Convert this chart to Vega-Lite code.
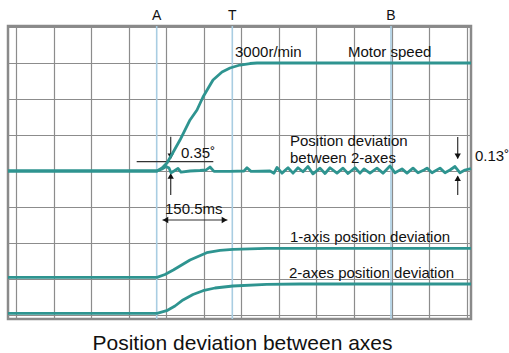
{
  "$schema": "https://vega.github.io/schema/vega-lite/v6.json",
  "autosize": "none",
  "width": 463,
  "height": 293,
  "padding": {"left": 8, "top": 26, "right": 38, "bottom": 34},
  "background": "white",
  "view": {"stroke": "#8a8a8a", "strokeWidth": 2.5},
  "title": {"text": "Position deviation between axes", "orient": "bottom", "fontSize": 21, "fontWeight": "normal", "font": "Liberation Sans", "color": "#111", "offset": 13, "dx": 3},
  "config": {
    "axis": {"grid": true, "labels": false, "ticks": false, "domain": false, "title": null, "gridColor": "#8c8c8c", "gridWidth": 1.2, "gridOpacity": 1}
  },
  "datasets": {
    "curves": [
      {"series": "Motor speed", "x": -0.213, "y": 4.0},
      {"series": "Motor speed", "x": 3.754, "y": 4.0},
      {"series": "Motor speed", "x": 3.887, "y": 4.083},
      {"series": "Motor speed", "x": 4.02, "y": 4.222},
      {"series": "Motor speed", "x": 4.18, "y": 4.514},
      {"series": "Motor speed", "x": 4.366, "y": 4.861},
      {"series": "Motor speed", "x": 4.633, "y": 5.417},
      {"series": "Motor speed", "x": 4.819, "y": 5.694},
      {"series": "Motor speed", "x": 4.979, "y": 6.056},
      {"series": "Motor speed", "x": 5.245, "y": 6.528},
      {"series": "Motor speed", "x": 5.485, "y": 6.75},
      {"series": "Motor speed", "x": 5.698, "y": 6.861},
      {"series": "Motor speed", "x": 5.964, "y": 6.944},
      {"series": "Motor speed", "x": 6.23, "y": 6.986},
      {"series": "Motor speed", "x": 6.416, "y": 7.0},
      {"series": "Motor speed", "x": 12.114, "y": 7.0},
      {"series": "Deviation between 2-axes", "x": -0.213, "y": 4.0},
      {"series": "Deviation between 2-axes", "x": 3.754, "y": 4.0},
      {"series": "Deviation between 2-axes", "x": 3.887, "y": 4.056},
      {"series": "Deviation between 2-axes", "x": 3.994, "y": 4.125},
      {"series": "Deviation between 2-axes", "x": 4.073, "y": 4.083},
      {"series": "Deviation between 2-axes", "x": 4.127, "y": 3.95},
      {"series": "Deviation between 2-axes", "x": 4.207, "y": 4.0},
      {"series": "Deviation between 2-axes", "x": 4.313, "y": 4.07},
      {"series": "Deviation between 2-axes", "x": 4.393, "y": 3.97},
      {"series": "Deviation between 2-axes", "x": 4.633, "y": 4.0},
      {"series": "Deviation between 2-axes", "x": 4.899, "y": 4.014},
      {"series": "Deviation between 2-axes", "x": 5.059, "y": 4.028},
      {"series": "Deviation between 2-axes", "x": 5.165, "y": 4.111},
      {"series": "Deviation between 2-axes", "x": 5.272, "y": 3.99},
      {"series": "Deviation between 2-axes", "x": 5.698, "y": 3.99},
      {"series": "Deviation between 2-axes", "x": 6.07, "y": 4.0},
      {"series": "Deviation between 2-axes", "x": 6.15, "y": 4.09},
      {"series": "Deviation between 2-axes", "x": 6.257, "y": 3.99},
      {"series": "Deviation between 2-axes", "x": 6.763, "y": 4.0},
      {"series": "Deviation between 2-axes", "x": 6.869, "y": 3.94},
      {"series": "Deviation between 2-axes", "x": 6.949, "y": 4.1},
      {"series": "Deviation between 2-axes", "x": 7.082, "y": 3.94},
      {"series": "Deviation between 2-axes", "x": 7.242, "y": 4.09},
      {"series": "Deviation between 2-axes", "x": 7.375, "y": 3.94},
      {"series": "Deviation between 2-axes", "x": 7.508, "y": 4.09},
      {"series": "Deviation between 2-axes", "x": 7.641, "y": 3.98},
      {"series": "Deviation between 2-axes", "x": 7.774, "y": 4.125},
      {"series": "Deviation between 2-axes", "x": 7.907, "y": 3.92},
      {"series": "Deviation between 2-axes", "x": 8.094, "y": 4.08},
      {"series": "Deviation between 2-axes", "x": 8.227, "y": 3.93},
      {"series": "Deviation between 2-axes", "x": 8.36, "y": 4.09},
      {"series": "Deviation between 2-axes", "x": 8.546, "y": 3.94},
      {"series": "Deviation between 2-axes", "x": 8.706, "y": 4.08},
      {"series": "Deviation between 2-axes", "x": 8.839, "y": 3.93},
      {"series": "Deviation between 2-axes", "x": 9.026, "y": 4.09},
      {"series": "Deviation between 2-axes", "x": 9.159, "y": 3.94},
      {"series": "Deviation between 2-axes", "x": 9.265, "y": 4.06},
      {"series": "Deviation between 2-axes", "x": 9.425, "y": 3.94},
      {"series": "Deviation between 2-axes", "x": 9.611, "y": 4.08},
      {"series": "Deviation between 2-axes", "x": 9.771, "y": 3.94},
      {"series": "Deviation between 2-axes", "x": 9.957, "y": 4.139},
      {"series": "Deviation between 2-axes", "x": 10.091, "y": 3.95},
      {"series": "Deviation between 2-axes", "x": 10.277, "y": 4.06},
      {"series": "Deviation between 2-axes", "x": 10.41, "y": 3.94},
      {"series": "Deviation between 2-axes", "x": 10.57, "y": 4.08},
      {"series": "Deviation between 2-axes", "x": 10.703, "y": 3.95},
      {"series": "Deviation between 2-axes", "x": 10.863, "y": 4.028},
      {"series": "Deviation between 2-axes", "x": 10.943, "y": 4.08},
      {"series": "Deviation between 2-axes", "x": 11.076, "y": 3.95},
      {"series": "Deviation between 2-axes", "x": 11.289, "y": 4.08},
      {"series": "Deviation between 2-axes", "x": 11.422, "y": 3.95},
      {"series": "Deviation between 2-axes", "x": 11.555, "y": 4.028},
      {"series": "Deviation between 2-axes", "x": 11.688, "y": 4.125},
      {"series": "Deviation between 2-axes", "x": 11.821, "y": 3.95},
      {"series": "Deviation between 2-axes", "x": 11.954, "y": 4.028},
      {"series": "Deviation between 2-axes", "x": 12.114, "y": 4.069},
      {"series": "1-axis position deviation", "x": -0.213, "y": 1.047},
      {"series": "1-axis position deviation", "x": 3.754, "y": 1.047},
      {"series": "1-axis position deviation", "x": 3.967, "y": 1.125},
      {"series": "1-axis position deviation", "x": 4.188, "y": 1.25},
      {"series": "1-axis position deviation", "x": 4.633, "y": 1.528},
      {"series": "1-axis position deviation", "x": 5.077, "y": 1.731},
      {"series": "1-axis position deviation", "x": 5.431, "y": 1.797},
      {"series": "1-axis position deviation", "x": 5.777, "y": 1.825},
      {"series": "1-axis position deviation", "x": 6.675, "y": 1.853},
      {"series": "1-axis position deviation", "x": 12.114, "y": 1.853},
      {"series": "2-axes position deviation", "x": -0.213, "y": 0.047},
      {"series": "2-axes position deviation", "x": 3.754, "y": 0.047},
      {"series": "2-axes position deviation", "x": 4.012, "y": 0.119},
      {"series": "2-axes position deviation", "x": 4.233, "y": 0.25},
      {"series": "2-axes position deviation", "x": 4.446, "y": 0.417},
      {"series": "2-axes position deviation", "x": 4.712, "y": 0.569},
      {"series": "2-axes position deviation", "x": 4.979, "y": 0.675},
      {"series": "2-axes position deviation", "x": 5.298, "y": 0.75},
      {"series": "2-axes position deviation", "x": 5.777, "y": 0.806},
      {"series": "2-axes position deviation", "x": 6.675, "y": 0.853},
      {"series": "2-axes position deviation", "x": 7.561, "y": 0.861},
      {"series": "2-axes position deviation", "x": 12.114, "y": 0.861}
    ],
    "markers": [
      {"label": "A", "t": 3.746, "top": 8.314},
      {"label": "T", "t": 5.759, "top": 8.314},
      {"label": "B", "t": 9.984, "top": 8.314}
    ],
    "segments": [
      {"x": 3.213, "x2": 5.253, "y": 4.258, "y2": 4.258},
      {"x": 4.119, "x2": 4.119, "y": 4.953, "y2": 4.35},
      {"x": 4.119, "x2": 4.119, "y": 3.333, "y2": 3.9},
      {"x": 11.76, "x2": 11.76, "y": 4.944, "y2": 4.35},
      {"x": 11.76, "x2": 11.76, "y": 3.333, "y2": 3.85},
      {"x": 3.9, "x2": 5.63, "y": 2.639, "y2": 2.639}
    ],
    "heads": [
      {"dir": "down", "x": 4.119, "y": 4.41},
      {"dir": "up", "x": 4.119, "y": 3.86},
      {"dir": "down", "x": 11.76, "y": 4.41},
      {"dir": "up", "x": 11.76, "y": 3.8},
      {"dir": "left", "x": 3.98, "y": 2.639},
      {"dir": "right", "x": 5.55, "y": 2.639}
    ],
    "notes": [
      {"text": "3000r/min", "x": 5.831, "y": 7.314},
      {"text": "Motor speed", "x": 8.839, "y": 7.314},
      {"text": "0.35˚", "x": 4.393, "y": 4.49},
      {"text": "Position deviation", "x": 7.295, "y": 4.833},
      {"text": "between 2-axes", "x": 7.295, "y": 4.369},
      {"text": "0.13˚", "x": 12.22, "y": 4.417},
      {"text": "150.5ms", "x": 3.967, "y": 2.935},
      {"text": "1-axis position deviation", "x": 7.295, "y": 2.157},
      {"text": "2-axes position deviation", "x": 7.268, "y": 1.157}
    ]
  },
  "resolve": {"scale": {"x": "shared", "y": "shared"}},
  "layer": [
    {
      "data": {"name": "curves"},
      "mark": {"type": "line", "opacity": 0},
      "encoding": {
        "x": {"field": "x", "type": "quantitative",
          "scale": {"domain": [-0.213, 12.114], "nice": false, "zero": false},
          "axis": {"values": [0,1,2,3,4,5,6,7,8,9,10,11,12]}},
        "y": {"field": "y", "type": "quantitative",
          "scale": {"domain": [-0.111, 8.028], "nice": false, "zero": false},
          "axis": {"values": [0,1,2,3,4,5,6,7,8]}},
        "detail": {"field": "series"}
      }
    },
    {
      "data": {"name": "markers"},
      "mark": {"type": "rule", "color": "#a9cde2", "strokeWidth": 1.6},
      "encoding": {"x": {"field": "t", "type": "quantitative", "axis": {"values": [0,1,2,3,4,5,6,7,8,9,10,11,12]}}}
    },
    {
      "data": {"name": "markers"},
      "mark": {"type": "text", "font": "Liberation Sans", "fontSize": 14, "color": "#111", "baseline": "middle", "align": "center", "clip": false},
      "encoding": {
        "x": {"field": "t", "type": "quantitative", "axis": {"values": [0,1,2,3,4,5,6,7,8,9,10,11,12]}},
        "y": {"field": "top", "type": "quantitative", "axis": {"values": [0,1,2,3,4,5,6,7,8]}},
        "text": {"field": "label"}
      }
    },
    {
      "data": {"name": "segments"},
      "mark": {"type": "rule", "color": "#333", "strokeWidth": 1.2},
      "encoding": {
        "x": {"field": "x", "type": "quantitative", "axis": {"values": [0,1,2,3,4,5,6,7,8,9,10,11,12]}},
        "x2": {"field": "x2"},
        "y": {"field": "y", "type": "quantitative", "axis": {"values": [0,1,2,3,4,5,6,7,8]}},
        "y2": {"field": "y2"}
      }
    },
    {
      "data": {"name": "heads"},
      "mark": {"type": "point", "filled": true, "color": "#111", "opacity": 1, "size": 40},
      "encoding": {
        "x": {"field": "x", "type": "quantitative", "axis": {"values": [0,1,2,3,4,5,6,7,8,9,10,11,12]}},
        "y": {"field": "y", "type": "quantitative", "axis": {"values": [0,1,2,3,4,5,6,7,8]}},
        "shape": {"field": "dir", "type": "nominal", "legend": null,
          "scale": {"domain": ["down", "up", "left", "right"], "range": ["triangle-down", "triangle-up", "triangle-left", "triangle-right"]}}
      }
    },
    {
      "data": {"name": "curves"},
      "mark": {"type": "line", "color": "#2e9490", "strokeWidth": 2.8, "strokeJoin": "round", "strokeCap": "butt"},
      "encoding": {
        "x": {"field": "x", "type": "quantitative", "axis": {"values": [0,1,2,3,4,5,6,7,8,9,10,11,12]}},
        "y": {"field": "y", "type": "quantitative", "axis": {"values": [0,1,2,3,4,5,6,7,8]}},
        "detail": {"field": "series"}
      }
    },
    {
      "data": {"name": "notes"},
      "mark": {"type": "text", "font": "Liberation Sans", "fontSize": 15, "color": "#111", "baseline": "middle", "align": "left", "clip": false},
      "encoding": {
        "x": {"field": "x", "type": "quantitative", "axis": {"values": [0,1,2,3,4,5,6,7,8,9,10,11,12]}},
        "y": {"field": "y", "type": "quantitative", "axis": {"values": [0,1,2,3,4,5,6,7,8]}},
        "text": {"field": "text"}
      }
    }
  ]
}
